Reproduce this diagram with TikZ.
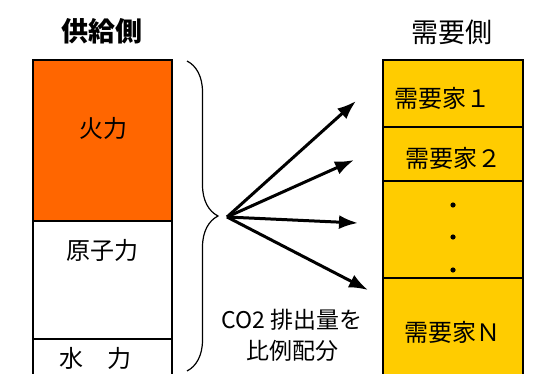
\documentclass[tikz,border=0pt]{standalone}
\usepackage{fontspec}
\newfontfamily\jfont{Noto Sans CJK JP}
\usetikzlibrary{arrows.meta,decorations.pathreplacing}
\definecolor{thermal}{HTML}{FF6600}
\definecolor{demand}{HTML}{FFCC00}
\tikzset{
  lbl/.style={font=\jfont\fontsize{24}{26}\selectfont, inner sep=0pt},
  head/.style={font=\jfont\fontsize{27}{29}\selectfont, inner sep=0pt},
  share/.style={line width=3pt, -{Latex[length=19pt,width=14pt]}}
}
\begin{document}
\begin{tikzpicture}[x=1pt,y=-1pt]
\clip (0,0) rectangle (533,374);
\fill[white] (0,0) rectangle (533,374);

% supply side
\node[head,font=\jfont\bfseries\fontsize{27}{29}\selectfont] (supply) at (102,31) {供給側};
\draw[line width=1.5pt,fill=thermal] (33,60) rectangle (172,221);
\draw[line width=1.5pt] (33,221) rectangle (172,339);
\draw[line width=1.5pt] (33,339) rectangle (172,390);
\node[lbl] (fire) at (103,128) {火力};
\node[lbl] (nuclear) at (102,250) {原子力};
\node[lbl] (hydro) at (95,358) {水　力};

% brace
\draw[line width=1.2pt,decorate,decoration={brace,amplitude=31pt}]
  (187,61) -- (187,371);
\coordinate (tip) at (227,217);

% demand side
\node[head] (demandside) at (452,32) {需要側};
\draw[line width=1.5pt,fill=demand] (383,60) rectangle (523,390);
\draw[line width=1.5pt] (383,127) -- (523,127);
\draw[line width=1.5pt] (383,181) -- (523,181);
\draw[line width=1.5pt] (383,278) -- (523,278);
\node[lbl] (user1) at (442,98) {需要家１};
\node[lbl] (user2) at (453,158) {需要家２};
\foreach \y in {205,237,270}
  \fill (453,\y) circle (2.6);
\node[lbl] (userN) at (452,332) {需要家Ｎ};

% arrows
\coordinate (a1) at (356,101);
\coordinate (a2) at (354,160);
\coordinate (a3) at (358,223);
\coordinate (a4) at (368,290);
\foreach \t in {a1,a2,a3,a4}
  \draw[share] (tip) -- (\t);

\node[lbl,align=center,font=\jfont\fontsize{23}{31}\selectfont] (note) at (292,335) {CO2 排出量を\\比例配分};
\end{tikzpicture}
\end{document}
